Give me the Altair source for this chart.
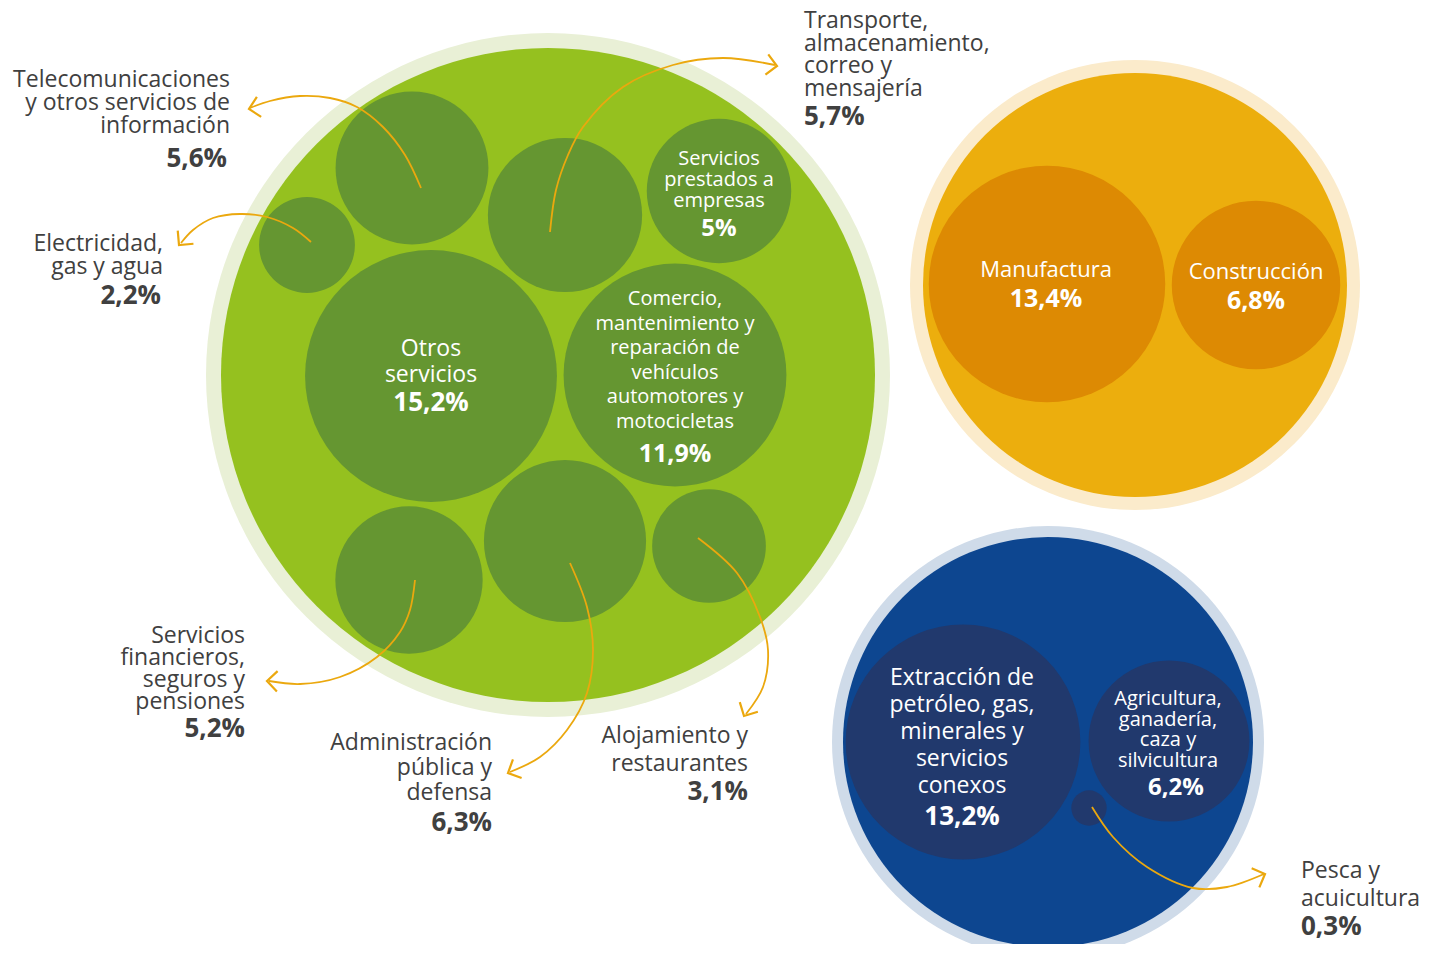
import math
import altair as alt
import pandas as pd

# ---------------- data ----------------
sectors = [
    "Telecomunicaciones y otros servicios de información",
    "Transporte, almacenamiento, correo y mensajería",
    "Servicios prestados a empresas",
    "Electricidad, gas y agua",
    "Otros servicios",
    "Comercio, mantenimiento y reparación de vehículos automotores y motocicletas",
    "Servicios financieros, seguros y pensiones",
    "Administración pública y defensa",
    "Alojamiento y restaurantes",
    "Manufactura",
    "Construcción",
    "Extracción de petróleo, gas, minerales y servicios conexos",
    "Agricultura, ganadería, caza y silvicultura",
    "Pesca y acuicultura",
]
values = [5.6, 5.7, 5.0, 2.2, 15.2, 11.9, 5.2, 6.3, 3.1, 13.4, 6.8, 13.2, 6.2, 0.3]
pct_labels = ["5,6%", "5,7%", "5%", "2,2%", "15,2%", "11,9%", "5,2%", "6,3%",
              "3,1%", "13,4%", "6,8%", "13,2%", "6,2%", "0,3%"]
groups = ["verde"] * 9 + ["naranja"] * 2 + ["azul"] * 3

# label lines as displayed
label_lines = [
    ["Telecomunicaciones", "y otros servicios de", "información"],
    ["Transporte,", "almacenamiento,", "correo y", "mensajería"],
    ["Servicios", "prestados a", "empresas"],
    ["Electricidad,", "gas y agua"],
    ["Otros", "servicios"],
    ["Comercio,", "mantenimiento y", "reparación de", "vehículos", "automotores y", "motocicletas"],
    ["Servicios", "financieros,", "seguros y", "pensiones"],
    ["Administración", "pública y", "defensa"],
    ["Alojamiento y", "restaurantes"],
    ["Manufactura"],
    ["Construcción"],
    ["Extracción de", "petróleo, gas,", "minerales y", "servicios", "conexos"],
    ["Agricultura,", "ganadería,", "caza y", "silvicultura"],
    ["Pesca y", "acuicultura"],
]

# ---------------- layout (pixel positions) ----------------
bubble_cx = [412, 565, 719, 307, 431, 675, 409, 565, 709, 1047, 1256, 963, 1169, 1089]
bubble_cy = [168, 215, 191, 245, 376, 375, 580, 541, 546, 284, 285, 742, 741, 808]

group_names = ["verde", "naranja", "azul"]
group_cx = [548, 1135, 1048]
group_cy = [375, 285, 742]
group_r = [327, 212, 205]
group_ring_r = [342, 225, 216]
group_fill = ["#95C11F", "#ECAE0D", "#0D4690"]
group_ring = ["#E9F0D6", "#FBEBCB", "#CFDBE9"]
bubble_fill = {"verde": "#659631", "naranja": "#DD8A03", "azul": "#21396D"}

# label placement: (inside?, align, x, first line y, line step, font, pct x, pct y, pct font)
label_pos = [
    (False, "right", 230, 80, 23, 23, 227, 159, 26),
    (False, "left", 804, 21, 22.5, 23, 804, 117, 26),
    (True, "center", 719, 159, 21, 20, 719, 229, 24),
    (False, "right", 163, 244, 23, 23, 161, 296, 26),
    (True, "center", 431, 349, 26, 23, 431, 403, 26),
    (True, "center", 675, 299, 24.6, 20, 675, 454, 25),
    (False, "right", 245, 636, 22, 23, 245, 729, 26),
    (False, "right", 492, 743, 25, 23, 492, 823, 26),
    (False, "right", 748, 736, 28, 23, 748, 792, 26),
    (True, "center", 1046, 270, 26, 22, 1046, 299, 25),
    (True, "center", 1256, 272, 26, 22, 1256, 301, 25),
    (True, "center", 962, 678, 27, 23, 962, 817, 26),
    (True, "center", 1168, 699, 20.7, 20, 1176, 788, 24),
    (False, "left", 1301, 871, 28, 23, 1301, 927, 26),
]

# arrows: path points (pixel), arrow-head tip and angle
arrow_paths = {
    0: [(421, 188), (405, 155), (383, 127), (357, 107), (330, 98), (300, 96), (270, 101), (250, 108)],
    1: [(550, 232), (556, 190), (568, 155), (583, 127), (623, 87), (673, 65), (723, 58), (775, 65)],
    3: [(311, 242), (293, 228), (267, 217), (240, 214), (213, 218), (193, 230), (181, 243)],
    6: [(415, 580), (410, 610), (400, 632), (377, 657), (340, 677), (300, 684), (269, 681)],
    7: [(570, 563), (587, 607), (593, 650), (587, 693), (567, 730), (540, 757), (510, 772)],
    8: [(698, 538), (737, 573), (760, 617), (768, 650), (763, 687), (746, 714)],
    13: [(1092, 807), (1113, 837), (1147, 867), (1193, 888), (1227, 887), (1264, 874)],
}
arrow_tip = {0: (249, 109, 168), 1: (777, 66, 8), 3: (179, 245, 130),
             6: (267, 681, 182), 7: (508, 773, 155), 8: (744, 716, 118), 13: (1265, 874, 338)}

ARROW = "#EBA80E"
DARK = "#404040"

# ---------------- tables ----------------
# Vega circle symbols: size = (2r)^2
groups_df = pd.DataFrame({
    "g": group_names, "x": group_cx, "y": group_cy,
    "r": group_r, "rr": group_ring_r, "fill": group_fill, "ring": group_ring,
})
groups_df["area"] = 4 * groups_df["r"] ** 2
groups_df["ring_area"] = 4 * groups_df["rr"] ** 2

bub_df = pd.DataFrame({
    "sector": sectors, "value": values, "x": bubble_cx, "y": bubble_cy, "g": groups,
})
bub_df["fill"] = bub_df["g"].map(bubble_fill)

rows = []
for i, lines in enumerate(label_lines):
    inside, align, lx, ly, step, fs, px, py, pfs = label_pos[i]
    col = "#FFFFFF" if inside else DARK
    for k, t in enumerate(lines):
        rows.append({"text": t, "x": lx, "y": ly + k * step, "fs": fs, "c": col,
                     "align": align, "bold": False})
    rows.append({"text": pct_labels[i], "x": px, "y": py, "fs": pfs, "c": col,
                 "align": align, "bold": True})
text_df = pd.DataFrame(rows)

arows = []
for aid, pts in arrow_paths.items():
    for k, (ax, ay) in enumerate(pts):
        arows.append({"id": aid, "o": k, "x": ax, "y": ay})
arrow_df = pd.DataFrame(arows)
tip_df = pd.DataFrame([{"id": k, "x": v[0], "y": v[1], "ang": v[2]} for k, v in arrow_tip.items()])

# ---------------- chart ----------------
W, H = 1418, 936
xs = alt.Scale(domain=[8, 8 + W], nice=False, zero=False)
ys = alt.Scale(domain=[8 + H, 8], nice=False, zero=False)
X = alt.X("x:Q", scale=xs, axis=None)
Y = alt.Y("y:Q", scale=ys, axis=None)

rings = alt.Chart(groups_df).mark_circle(opacity=1).encode(
    x=X, y=Y, size=alt.Size("ring_area:Q", scale=None),
    color=alt.Color("ring:N", scale=None))
inner = alt.Chart(groups_df).mark_circle(opacity=1).encode(
    x=X, y=Y, size=alt.Size("area:Q", scale=None),
    color=alt.Color("fill:N", scale=None))

K = 4 * 32.3 ** 2
bubbles = alt.Chart(bub_df).mark_circle(opacity=1).encode(
    x=X, y=Y,
    size=alt.Size("value:Q", scale=alt.Scale(type="linear", domain=[0, 16], range=[0, 16 * K]), legend=None),
    color=alt.Color("fill:N", scale=None))

arrows = alt.Chart(arrow_df).mark_line(color=ARROW, strokeWidth=1.8, interpolate="catmull-rom").encode(
    x=X, y=Y, detail="id:N", order="o:Q")

heads = alt.Chart(tip_df).mark_point(
    shape="M -1 -1 L 0 0 L -1 1", filled=False, color=ARROW, strokeWidth=2.2,
    size=420, opacity=1).encode(x=X, y=Y, angle=alt.Angle("ang:Q", scale=None))

text_layers = []
for align in ["left", "center", "right"]:
    for bold in [False, True]:
        sub = text_df[(text_df["align"] == align) & (text_df["bold"] == bold)]
        if len(sub) == 0:
            continue
        text_layers.append(
            alt.Chart(sub).mark_text(
                align=align, baseline="middle", font="Open Sans",
                fontWeight="bold" if bold else "normal",
            ).encode(x=X, y=Y, text="text:N",
                     size=alt.Size("fs:Q", scale=None),
                     color=alt.Color("c:N", scale=None))
        )

chart = alt.layer(rings, inner, bubbles, arrows, heads, *text_layers).properties(
    width=W, height=H, autosize=alt.AutoSizeParams(type="none"), padding=0,
    background="#FFFFFF",
).configure_view(stroke=None)

chart.save("out.html", embed_options={"renderer": "svg", "actions": False})
